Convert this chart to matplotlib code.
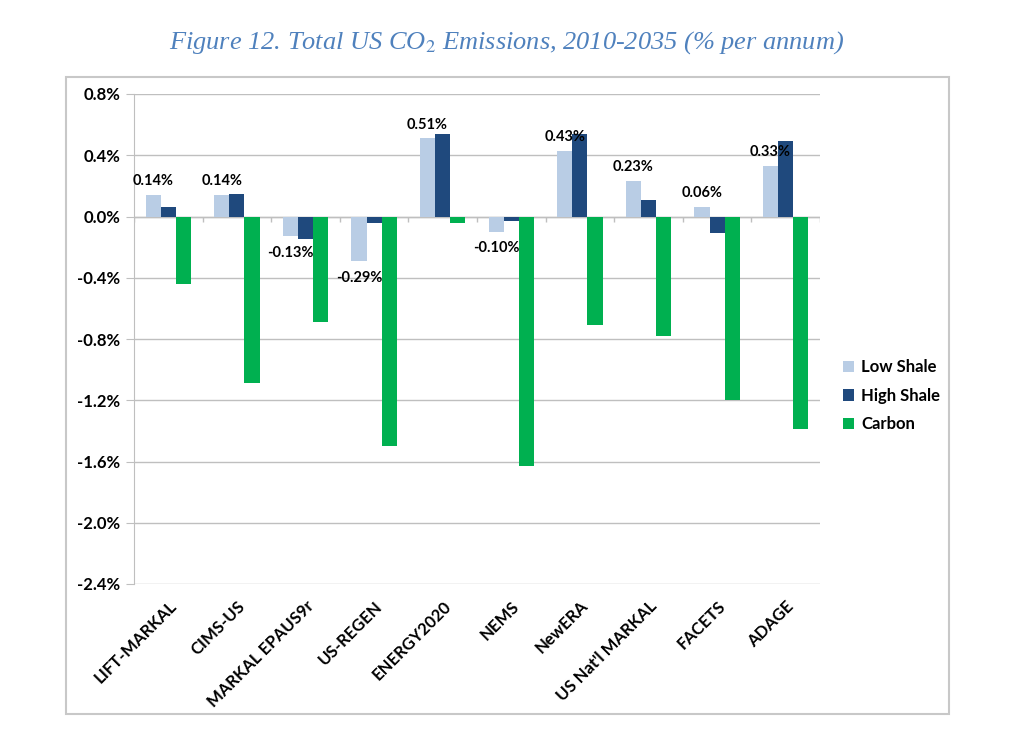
import matplotlib.pyplot as plt
import numpy as np
from matplotlib.patches import Rectangle

models = ["LIFT-MARKAL", "CIMS-US", "MARKAL EPAUS9r", "US-REGEN", "ENERGY2020",
          "NEMS", "NewERA", "US Nat'l MARKAL", "FACETS", "ADAGE"]
low_shale = [0.14, 0.14, -0.13, -0.29, 0.51, -0.10, 0.43, 0.23, 0.06, 0.33]
high_shale = [0.06, 0.145, -0.15, -0.045, 0.54, -0.03, 0.54, 0.11, -0.11, 0.49]
carbon = [-0.44, -1.09, -0.69, -1.50, -0.045, -1.63, -0.71, -0.78, -1.20, -1.39]
yticks = [0.8, 0.4, 0.0, -0.4, -0.8, -1.2, -1.6, -2.0, -2.4]

c_low = "#B9CDE5"
c_high = "#1F497D"
c_carbon = "#00B050"
grid_c = "#BFBFBF"
font = "Lato"

fig = plt.figure(figsize=(10.24, 7.34), dpi=100)
ax = fig.add_axes([134 / 1024, 1 - 584 / 734, 686 / 1024, 490 / 734])

# outer chart frame
fig.patches.append(Rectangle((66 / 1024, 1 - 714 / 734), 883 / 1024, 637 / 734,
                             transform=fig.transFigure, fill=False,
                             edgecolor="#C8C8C8", linewidth=1.5))

x = np.arange(len(models))
w = 0.22
ax.bar(x - w, low_shale, w, color=c_low, label="Low Shale", zorder=3)
ax.bar(x, high_shale, w, color=c_high, label="High Shale", zorder=3)
ax.bar(x + w, carbon, w, color=c_carbon, label="Carbon", zorder=3)

# data labels on Low Shale
for xi, v in zip(x, low_shale):
    off = 10 if v >= 0 else -12
    ax.annotate(f"{v:.2f}%", (xi - w, v), xytext=(0, off), textcoords="offset points",
                ha="center", va="center", fontsize=10.5, fontweight="bold",
                family=font, zorder=4)

ax.set_xlim(-0.5, len(models) - 0.5)
ax.set_ylim(-2.4, 0.8)
ax.set_yticks(yticks)
ax.set_yticklabels([f"{t:.1f}%" for t in yticks], fontsize=12, fontweight="bold",
                   family=font)
ax.yaxis.grid(True, color=grid_c, linewidth=1, zorder=0)
ax.tick_params(axis="y", length=6, color=grid_c, pad=4)

# zero axis with tick marks between categories
ax.axhline(0, color=grid_c, linewidth=1, zorder=2)
ax.vlines(np.arange(len(models) + 1) - 0.5, -0.035, 0, color=grid_c, linewidth=1, zorder=2)

ax.set_xticks(x)
ax.set_xticklabels(models, rotation=45, ha="right", rotation_mode="anchor",
                   fontsize=12, fontweight="bold", family=font)
ax.tick_params(axis="x", length=0, pad=10)

for s in ["top", "right", "bottom"]:
    ax.spines[s].set_visible(False)
ax.spines["left"].set_color(grid_c)

leg = ax.legend(loc="center left", bbox_to_anchor=(1.033, 0.384), frameon=False,
                prop={"family": font, "weight": "bold", "size": 12},
                borderaxespad=0, borderpad=0,
                handlelength=0.7, handleheight=0.7, handletextpad=0.4, labelspacing=0.75)

fig.text(0.495, 0.942, "Figure 12. Total US CO$_2$ Emissions, 2010-2035 (% per annum)",
         ha="center", va="center", fontsize=19, style="italic", color="#4F81BD",
         family="Liberation Serif", math_fontfamily="stix")

fig.savefig("out.png", dpi=100)
